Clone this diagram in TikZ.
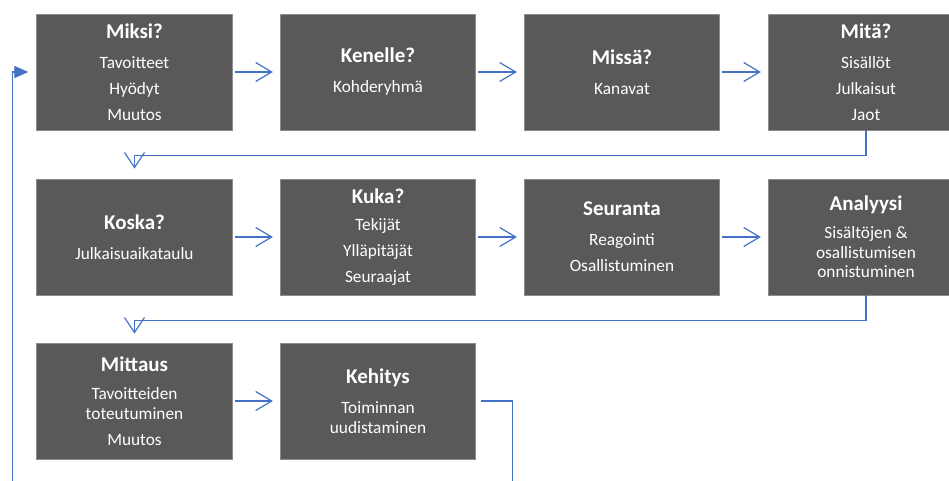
\documentclass[tikz,border=0pt]{standalone}
\usepackage{fontspec}
\setmainfont{Carlito}
\usetikzlibrary{arrows.meta}

\definecolor{boxgray}{HTML}{595959}
\definecolor{boxedge}{HTML}{8C8C8C}
\definecolor{flowblue}{HTML}{4472C4}

\newcommand\stagetitle[1]{{\fontsize{21}{25}\selectfont\bfseries #1}}

\tikzset{
  stage/.style={rectangle, fill=boxgray, draw=boxedge, line width=0.8pt,
    minimum width=195.5pt, minimum height=116pt, inner sep=0pt,
    text=white, align=center, font=\fontsize{17.3}{19.5}\selectfont},
  flow/.style={draw=flowblue, line width=1.2pt,
    -{Straight Barb[length=16pt,width=19pt]}},
  wrapflow/.style={draw=flowblue, line width=1.2pt,
    -{Straight Barb[length=15pt,width=20pt]}},
  loopline/.style={draw=flowblue, line width=1.2pt},
  looparrow/.style={draw=flowblue, line width=1.2pt,
    -{Triangle[length=14pt,width=12pt]}}
}

\begin{document}
\begin{tikzpicture}[x=1pt, y=-1pt]
  \useasboundingbox (0,0) rectangle (949,481);
  \clip (0,0) rectangle (949,481);

  % first row
  \node[stage] (miksi) at (134.5,72)
    {\stagetitle{Miksi?}\\[10pt]Tavoitteet\\[6.5pt]Hyödyt\\[6.5pt]Muutos};
  \node[stage] (kenelle) at (378,72)
    {\stagetitle{Kenelle?}\\[10.5pt]Kohderyhmä};
  \node[stage] (missa) at (622,72)
    {\stagetitle{Missä?}\\[10.5pt]Kanavat};
  \node[stage] (mita) at (866,72)
    {\stagetitle{Mitä?}\\[10pt]Sisällöt\\[6.5pt]Julkaisut\\[6.5pt]Jaot};

  % second row
  \node[stage] (koska) at (134.5,237)
    {\stagetitle{Koska?}\\[10.5pt]Julkaisuaikataulu};
  \node[stage] (kuka) at (378,237)
    {\stagetitle{Kuka?}\\[8pt]Tekijät\\[6.5pt]Ylläpitäjät\\[6.5pt]Seuraajat};
  \node[stage] (seuranta) at (622,237)
    {\stagetitle{Seuranta}\\[10.5pt]Reagointi\\[6.5pt]Osallistuminen};
  \node[stage] (analyysi) at (866,237)
    {\stagetitle{Analyysi}\\[8.5pt]Sisältöjen \&\\osallistumisen\\onnistuminen};

  % third row
  \node[stage] (mittaus) at (134.5,401)
    {\stagetitle{Mittaus}\\[8.5pt]Tavoitteiden\\toteutuminen\\[6.5pt]Muutos};
  \node[stage] (kehitys) at (378,401)
    {\stagetitle{Kehitys}\\[10.5pt]Toiminnan\\uudistaminen};

  % arrows within rows
  \draw[flow, shorten <=2pt, shorten >=7pt] (miksi.east) -- (kenelle.west);
  \draw[flow, shorten <=2pt, shorten >=7pt] (kenelle.east) -- (missa.west);
  \draw[flow, shorten <=2pt, shorten >=7pt] (missa.east) -- (mita.west);
  \draw[flow, shorten <=2pt, shorten >=7pt] (koska.east) -- (kuka.west);
  \draw[flow, shorten <=2pt, shorten >=7pt] (kuka.east) -- (seuranta.west);
  \draw[flow, shorten <=2pt, shorten >=7pt] (seuranta.east) -- (analyysi.west);
  \draw[flow, shorten <=2pt, shorten >=7pt] (mittaus.east) -- (kehitys.west);

  % arrows wrapping to the next row
  \draw[wrapflow, shorten >=10pt] (mita.south) -- ++(0,25) -| (koska.north);
  \draw[wrapflow, shorten >=9pt] (analyysi.south) -- ++(0,25) -| (mittaus.north);

  % feedback loop back to the start
  \coordinate (loopout) at (512.5,481);
  \coordinate (loopin) at (12.5,481);
  \draw[loopline, shorten <=4.5pt] (kehitys.east) -| (loopout);
  \draw[looparrow, shorten >=8pt] (loopin) |- (miksi.west);
\end{tikzpicture}
\end{document}
